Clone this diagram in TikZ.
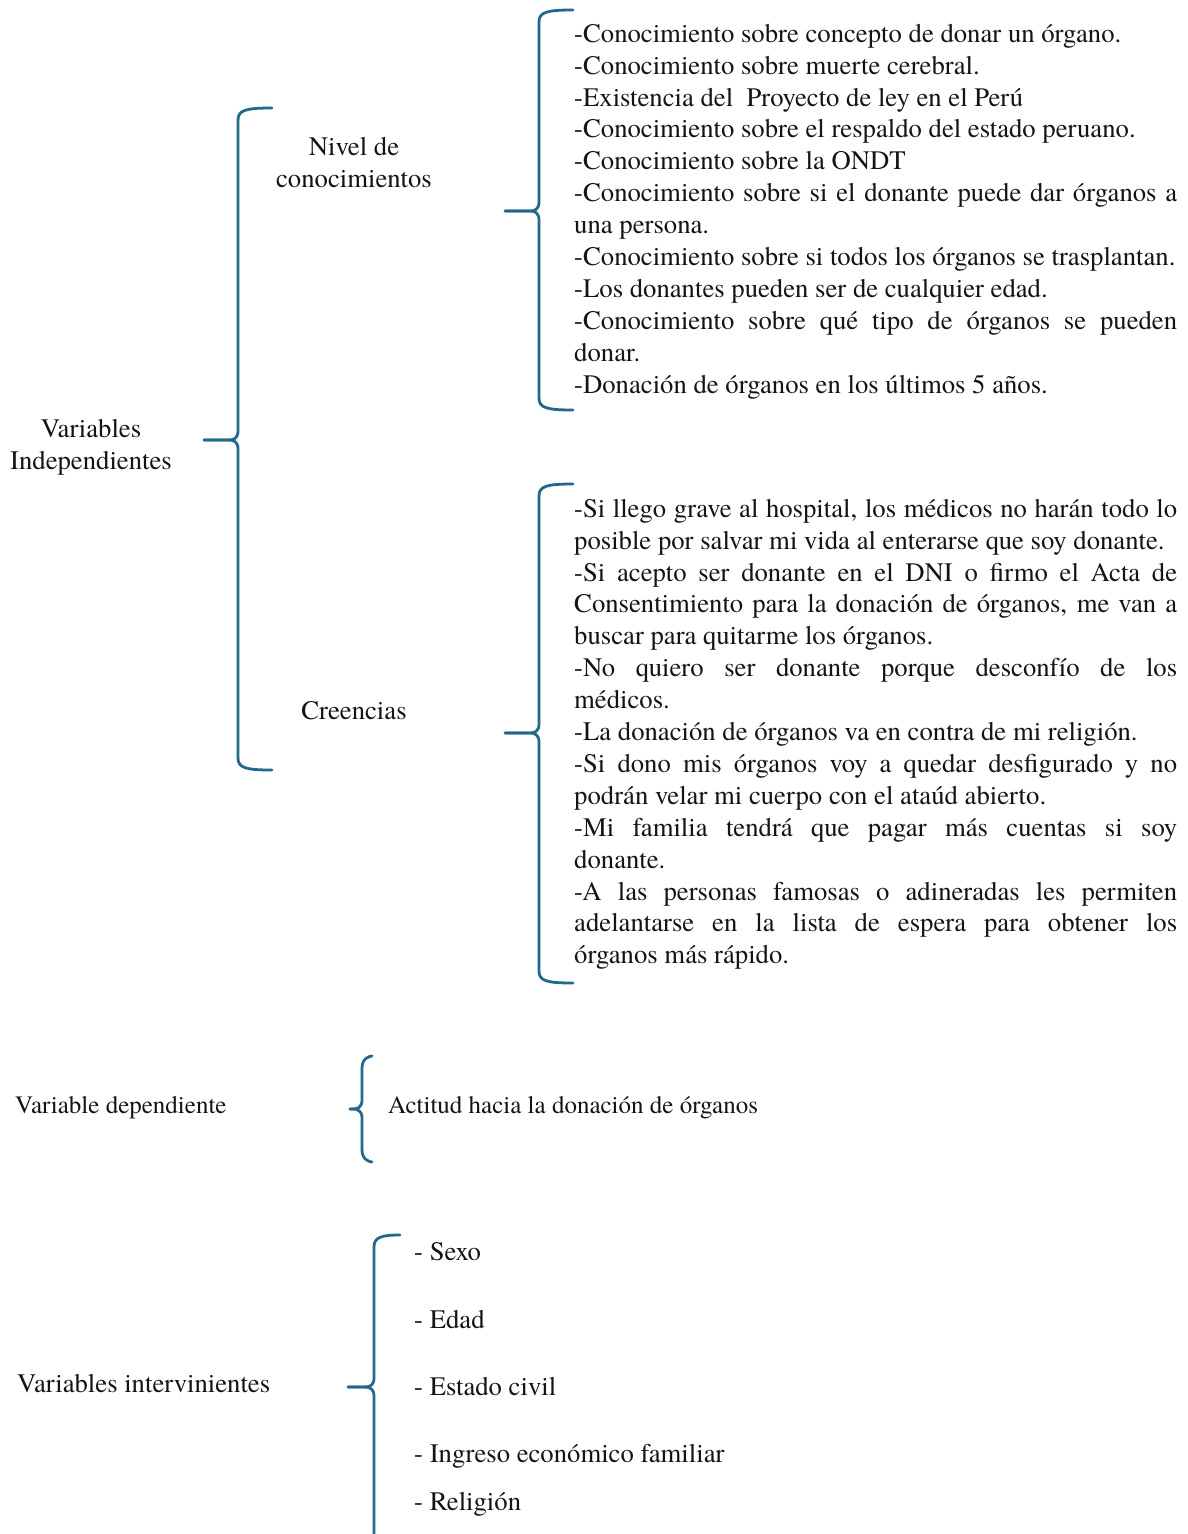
\documentclass[tikz,border=0pt]{standalone}
\usepackage{fontspec}
\setmainfont{texgyretermes}[Extension=.otf, UprightFont=*-regular, BoldFont=*-bold, ItalicFont=*-italic, BoldItalicFont=*-bolditalic]
\definecolor{brcol}{RGB}{34,104,140}
\definecolor{txt}{RGB}{20,20,20}
\newcommand\curlybr[6]{% xe, xv, xt, yt, ym, yb
  \draw[bracestyle] (#1,#4) .. controls (#2+8,#4) and (#2,#4+2) .. (#2,#4+12) -- (#2,#5-9) .. controls (#2,#5-2) and (#2-4,#5) .. (#2-9,#5) -- (#3,#5);
  \draw[bracestyle] (#3,#5) -- (#2-9,#5) .. controls (#2-4,#5) and (#2,#5+2) .. (#2,#5+9) -- (#2,#6-12) .. controls (#2,#6-2) and (#2+8,#6) .. (#1,#6);
}
\begin{document}
\begin{tikzpicture}[x=1pt,y=-1pt,
  lbl/.style={inner sep=0pt, font=\fontsize{26.7}{31.9}\selectfont, text=txt},
  small/.style={lbl, font=\fontsize{25}{31.9}\selectfont},
  blk/.style={lbl, text width=603pt, align=justify, anchor=north west,
    execute at begin node={\tolerance=10000\hyphenpenalty=10000\exhyphenpenalty=10000}},
  bracestyle/.style={draw=brcol, line width=2.8pt, line cap=round, line join=round}]
\useasboundingbox (0,0) rectangle (1187,1534);
\clip (0,0) rectangle (1187,1534);

% braces
\curlybr{272}{238}{204}{108}{440}{770}
\curlybr{573}{539}{505}{10}{211}{410}
\curlybr{573}{539}{505}{484}{733}{983}
\curlybr{372}{362}{350}{1056}{1109}{1162}
\curlybr{400}{374}{348}{1235}{1387}{1600}

% left labels
\node[lbl, align=center, anchor=north] (vi) at (91,414.67) {\strut Variables\\Independientes};
\node[lbl, align=center, anchor=north] (nivel) at (354,132.67) {\strut Nivel de\\conocimientos};
\node[lbl, anchor=base] (cre) at (354,719) {Creencias};

% knowledge block
\node[blk] (know) at (574,19.67) {\strut -Conocimiento sobre concepto de donar un órgano.\\
-Conocimiento sobre muerte cerebral.\\
-Existencia del\ \ Proyecto de ley en el Perú\\
-Conocimiento sobre el respaldo del estado peruano.\\
-Conocimiento sobre la ONDT\\
-Conocimiento sobre si el donante puede dar órganos a\linebreak una persona.\\
-Conocimiento sobre si todos los órganos se trasplantan.\\
-Los donantes pueden ser de cualquier edad.\\
-Conocimiento sobre qué tipo de órganos se pueden\linebreak donar.\\
-Donación de órganos en los últimos 5 años.};

% beliefs block
\node[blk] (belief) at (574,494.67) {\strut -Si llego grave al hospital, los médicos no harán todo lo\linebreak posible por salvar mi vida al enterarse que soy donante.\\
-Si acepto ser donante en el DNI o firmo el Acta de\linebreak Consentimiento para la donación de órganos, me van a\linebreak buscar para quitarme los órganos.\\
-No quiero ser donante porque desconfío de los\linebreak médicos.\\
-La donación de órganos va en contra de mi religión.\\
-Si dono mis órganos voy a quedar desfigurado y no\linebreak podrán velar mi cuerpo con el ataúd abierto.\\
-Mi familia tendrá que pagar más cuentas si soy\linebreak donante.\\
-A las personas famosas o adineradas les permiten\linebreak adelantarse en la lista de espera para obtener los\linebreak órganos más rápido.};

% dependent
\node[small, anchor=base west] (vd) at (15,1113) {Variable dependiente};
\node[small, anchor=base west] (act) at (388,1113) {Actitud hacia la donación de órganos};

% intervening
\node[lbl, anchor=base west] (vint) at (17,1392) {Variables intervinientes};
\node[lbl, anchor=base west] (i1) at (414,1260) {- Sexo};
\node[lbl, anchor=base west] (i2) at (414,1328) {- Edad};
\node[lbl, anchor=base west] (i3) at (414,1395) {- Estado civil};
\node[lbl, anchor=base west] (i4) at (414,1462) {- Ingreso económico familiar};
\node[lbl, anchor=base west] (i5) at (414,1510) {- Religión};
\end{tikzpicture}
\end{document}
